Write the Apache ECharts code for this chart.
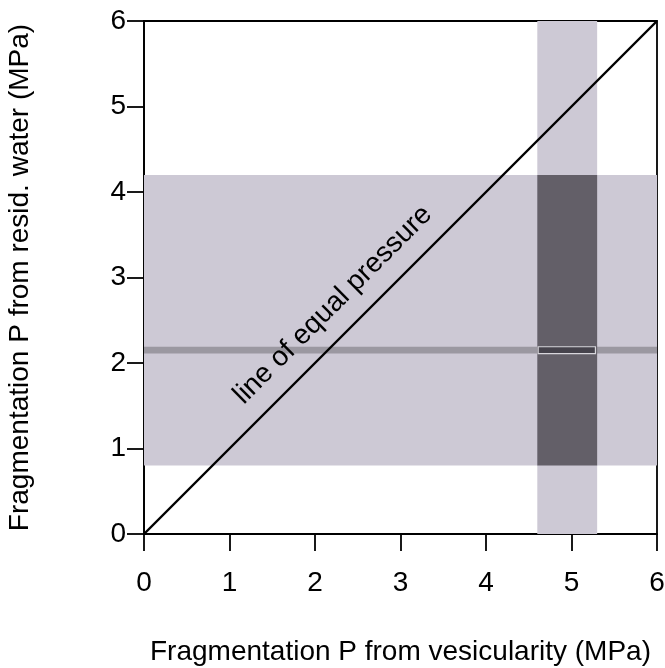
<!DOCTYPE html>
<html>
<head>
<meta charset="utf-8">
<script src="https://cdn.jsdelivr.net/npm/echarts@6/dist/echarts.min.js"></script>
<style>
  html, body { margin: 0; padding: 0; background: #fff; }
  #chart { width: 665px; height: 668px; }
</style>
</head>
<body>
<div id="chart"></div>
<script>
// Pressure ranges (MPa)
var vesicularityRange = [4.6, 5.3];   // fragmentation P from vesicularity
var residWaterRange = [0.8, 4.2];     // fragmentation P from residual water
var residWaterBest = 2.15;            // best estimate from residual water
var residWaterBestBand = [2.11, 2.19];
var equalLine = [[0, 0], [6, 6]];
var tickValues = [0, 1, 2, 3, 4, 5, 6];

var FONT = 'Liberation Sans, Arial, sans-serif';
var FS = 28;
var LIGHT = '#cdc9d5';
var DARK = '#635f68';
var MID = '#9b98a1';

var chart = echarts.init(document.getElementById('chart'), null, { renderer: 'canvas' });

function rectBetween(api, x0, x1, y0, y1) {
  var p0 = api.coord([x0, y1]);
  var p1 = api.coord([x1, y0]);
  return { x: p0[0], y: p0[1], width: p1[0] - p0[0], height: p1[1] - p0[1] };
}

var option = {
  animation: false,
  grid: {
    left: 144, top: 21, width: 513, height: 513,
    containLabel: false,
    outerBoundsMode: 'none',
    show: true, borderColor: '#000', borderWidth: 1.8, backgroundColor: 'transparent'
  },
  xAxis: {
    type: 'value', min: tickValues[0], max: tickValues[tickValues.length - 1], interval: 1,
    name: 'Fragmentation P from vesicularity (MPa)',
    nameLocation: 'middle', nameGap: 104,
    nameTextStyle: { fontFamily: FONT, fontSize: FS, color: '#000' },
    axisLine: { show: true, lineStyle: { color: '#000', width: 1.8 } },
    axisTick: { show: true, inside: false, length: 17, lineStyle: { color: '#000', width: 1.8 } },
    axisLabel: { margin: 35, fontFamily: FONT, fontSize: FS, color: '#000' },
    splitLine: { show: false }
  },
  yAxis: {
    type: 'value', min: tickValues[0], max: tickValues[tickValues.length - 1], interval: 1,
    name: 'Fragmentation P from resid. water (MPa)',
    nameLocation: 'middle', nameGap: 110,
    nameTextStyle: { fontFamily: FONT, fontSize: FS, color: '#000' },
    axisLine: { show: true, lineStyle: { color: '#000', width: 1.8 } },
    axisTick: { show: true, inside: false, length: 17, lineStyle: { color: '#000', width: 1.8 } },
    axisLabel: { margin: 18, fontFamily: FONT, fontSize: FS, color: '#000' },
    splitLine: { show: false }
  },
  series: [
    {
      type: 'custom',
      coordinateSystem: 'cartesian2d',
      data: [0],
      z: 1,
      renderItem: function (params, api) {
        var children = [];
        // horizontal band (residual water range)
        children.push({ type: 'rect', shape: rectBetween(api, 0, 6, residWaterRange[0], residWaterRange[1]),
          style: { fill: LIGHT } });
        // vertical band (vesicularity range)
        children.push({ type: 'rect', shape: rectBetween(api, vesicularityRange[0], vesicularityRange[1], 0, 6),
          style: { fill: LIGHT } });
        // best estimate line
        children.push({ type: 'rect', shape: rectBetween(api, 0, 6, residWaterBestBand[0], residWaterBestBand[1]),
          style: { fill: MID } });
        // overlap of the two ranges
        children.push({ type: 'rect', shape: rectBetween(api, vesicularityRange[0], vesicularityRange[1], residWaterRange[0], residWaterRange[1]),
          style: { fill: DARK } });
        // best estimate within the overlap
        var inner = rectBetween(api, vesicularityRange[0] + 0.01, vesicularityRange[1] - 0.02, residWaterBestBand[0], residWaterBestBand[1]);
        children.push({ type: 'rect', shape: inner,
          style: { fill: '#46434c', stroke: '#d8d6dc', lineWidth: 1.2 } });
        return { type: 'group', children: children };
      }
    },
    {
      type: 'line',
      data: equalLine,
      z: 5,
      symbol: 'none',
      lineStyle: { color: '#000', width: 2.4 }
    },
    {
      type: 'custom',
      coordinateSystem: 'cartesian2d',
      data: [0],
      z: 6,
      renderItem: function (params, api) {
        var p = api.coord([2.21, 2.68]);
        return {
          type: 'text',
          x: p[0], y: p[1],
          rotation: Math.PI / 4,
          style: {
            text: 'line of equal pressure',
            fontFamily: FONT, fontSize: FS, fill: '#000',
            align: 'center', verticalAlign: 'middle'
          }
        };
      }
    }
  ]
};

chart.setOption(option);
</script>
</body>
</html>
